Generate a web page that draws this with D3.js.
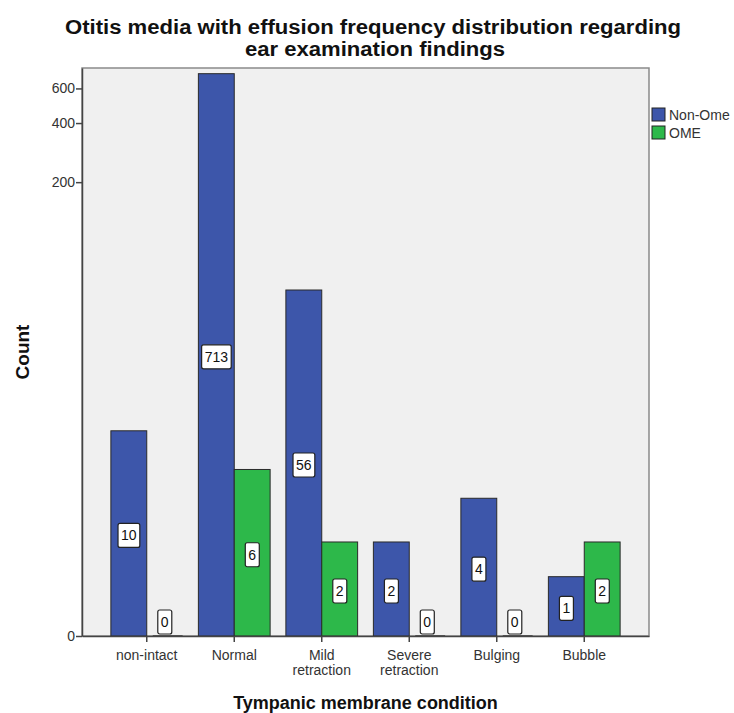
<!DOCTYPE html>
<html>
<head>
<meta charset="utf-8">
<script src="https://cdn.jsdelivr.net/npm/d3@7"></script>
<style>
  body { margin: 0; background: #fff; }
  text { font-family: "Liberation Sans", Arial, sans-serif; }
</style>
</head>
<body>
<svg id="chart" width="734" height="713"></svg>
<script>
// data
const categories = ['non-intact', 'Normal', 'Mild retraction', 'Severe retraction', 'Bulging', 'Bubble']
const seriesNames = ['Non-Ome', 'OME']
const nonOme = [10, 713, 56, 2, 4, 1]
const ome = [0, 6, 2, 0, 0, 2]
const yTicks = [0, 200, 400, 600]
const colors = ['#3d56aa', '#2db84a']

const svg = d3.select('#chart')
const margin = { top: 68, right: 85, bottom: 77, left: 82 }
const width = +svg.attr('width') - margin.left - margin.right
const height = +svg.attr('height') - margin.top - margin.bottom
const g = svg.append('g').attr('transform', 'translate(' + margin.left + ',' + margin.top + ')')

// plot background
g.append('rect')
  .attr('width', width)
  .attr('height', height)
  .attr('fill', '#f0f0f0')
  .attr('stroke', '#8a8a8a')
  .attr('stroke-width', 1.5)

const x0 = d3.scaleBand().domain(categories).range([0, width]).paddingInner(0.18).paddingOuter(0.33)
const x1 = d3.scaleBand().domain(seriesNames).range([0, x0.bandwidth()])

// SPSS style log(count + 1) axis
const y = d3.scaleSymlog().constant(1).domain([0, 762]).range([height, 0])

const rows = categories.map((c, i) => ({ cat: c, values: [nonOme[i], ome[i]] }))

const groups = g.selectAll('.grp')
  .data(rows)
  .join('g')
  .attr('class', 'grp')
  .attr('transform', (d) => 'translate(' + x0(d.cat) + ',0)')

const cells = groups.selectAll('.cell')
  .data((d) => d.values.map((v, k) => ({ key: seriesNames[k], v: v, k: k })))
  .join('g')
  .attr('class', 'cell')

cells.append('rect')
  .attr('x', (d) => x1(d.key))
  .attr('y', (d) => y(d.v))
  .attr('width', x1.bandwidth())
  .attr('height', (d) => height - y(d.v))
  .attr('fill', (d) => colors[d.k])
  .attr('stroke', (d) => (d.v > 0 ? '#2a2a2a' : 'none'))
  .attr('stroke-width', 1)

// zero bars show as a thin line on the baseline
cells.filter((d) => d.v === 0)
  .append('line')
  .attr('x1', (d) => x1(d.key) + 6)
  .attr('x2', (d) => x1(d.key) + x1.bandwidth())
  .attr('y1', height - 0.5)
  .attr('y2', height - 0.5)
  .attr('stroke', '#555')
  .attr('stroke-width', 1)

// value labels
const lab = cells.append('g')
  .attr('transform', (d) => {
    const cx = x1(d.key) + x1.bandwidth() / 2
    const cy = d.v > 0 ? (y(d.v) + height) / 2 + 2 : height - 14
    return 'translate(' + cx + ',' + cy + ')'
  })

lab.append('text')
  .attr('text-anchor', 'middle')
  .attr('dy', '0.36em')
  .attr('font-size', 14)
  .attr('fill', '#111')
  .text((d) => d.v)
  .each(function () {
    const b = this.getBBox()
    d3.select(this.parentNode).insert('rect', 'text')
      .attr('x', b.x - 3)
      .attr('y', -12)
      .attr('width', b.width + 6)
      .attr('height', 24)
      .attr('rx', 2)
      .attr('fill', '#fff')
      .attr('stroke', '#222')
      .attr('stroke-width', 1.2)
  })

// axes
const yAxis = g.append('g')
  .call(d3.axisLeft(y).tickValues(yTicks).tickSize(6).tickSizeOuter(0).tickFormat(d3.format('d')))
yAxis.select('.domain').attr('stroke', '#444').attr('stroke-width', 1.5)
yAxis.selectAll('.tick line').attr('stroke', '#444').attr('stroke-width', 1.5)
yAxis.selectAll('.tick text').attr('font-size', 14).attr('fill', '#333').attr('x', -7)

const xAxis = g.append('g')
  .attr('transform', 'translate(0,' + height + ')')
  .call(d3.axisBottom(x0).tickSize(6).tickSizeOuter(0))
xAxis.select('.domain').attr('stroke', '#444').attr('stroke-width', 1.5)
xAxis.selectAll('.tick line').attr('stroke', '#444').attr('stroke-width', 1.5)
xAxis.selectAll('.tick text')
  .attr('font-size', 14)
  .attr('fill', '#333')
  .attr('y', 14)
  .each(function (d) {
    const words = d.split(' ')
    const t = d3.select(this).text(null)
    if (words.length === 1) {
      t.append('tspan').attr('x', 0).attr('dy', '0.71em').text(d)
    } else {
      words.forEach((w, i) => {
        t.append('tspan').attr('x', 0).attr('dy', i === 0 ? '0.71em' : '1.1em').text(w)
      })
    }
  })

// titles (fitted to the reference width)
svg.append('text')
  .attr('x', 373)
  .attr('y', 34)
  .attr('text-anchor', 'middle')
  .attr('font-size', 20)
  .attr('font-weight', 'bold')
  .attr('fill', '#111')
  .attr('textLength', 616)
  .attr('lengthAdjust', 'spacingAndGlyphs')
  .text('Otitis media with effusion frequency distribution regarding')
svg.append('text')
  .attr('x', 375)
  .attr('y', 56)
  .attr('text-anchor', 'middle')
  .attr('font-size', 20)
  .attr('font-weight', 'bold')
  .attr('fill', '#111')
  .attr('textLength', 260)
  .attr('lengthAdjust', 'spacingAndGlyphs')
  .text('ear examination findings')

svg.append('text')
  .attr('x', margin.left + width / 2)
  .attr('y', 709)
  .attr('text-anchor', 'middle')
  .attr('font-size', 18)
  .attr('font-weight', 'bold')
  .attr('fill', '#111')
  .text('Tympanic membrane condition')

svg.append('text')
  .attr('transform', 'translate(29,' + (margin.top + height / 2) + ') rotate(-90)')
  .attr('text-anchor', 'middle')
  .attr('font-size', 19)
  .attr('font-weight', 'bold')
  .attr('fill', '#111')
  .text('Count')

// legend
const legend = svg.append('g').attr('transform', 'translate(652,108)')
const li = legend.selectAll('g')
  .data(seriesNames)
  .join('g')
  .attr('transform', (d, i) => 'translate(0,' + i * 18 + ')')
li.append('rect')
  .attr('width', 13)
  .attr('height', 13)
  .attr('fill', (d, i) => colors[i])
  .attr('stroke', '#222')
li.append('text')
  .attr('x', 17)
  .attr('y', 7)
  .attr('dy', '0.35em')
  .attr('font-size', 14)
  .attr('fill', '#333')
  .text((d) => d)
</script>
</body>
</html>
